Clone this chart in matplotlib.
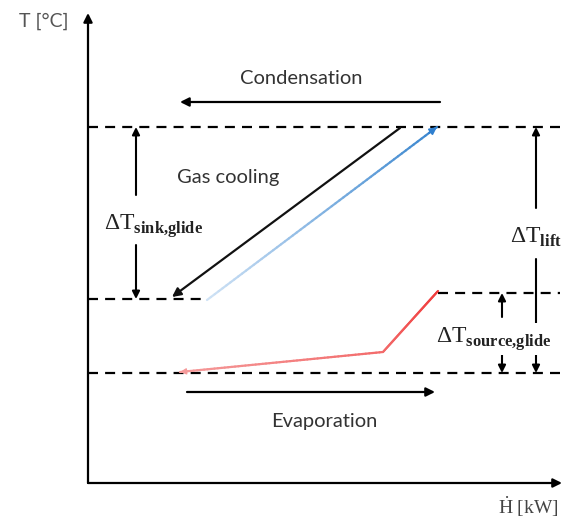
import numpy as np
import matplotlib
matplotlib.use("Agg")
import matplotlib.pyplot as plt
from matplotlib.collections import LineCollection
from matplotlib.colors import LinearSegmentedColormap

plt.rcParams['mathtext.fontset'] = 'custom'
plt.rcParams['mathtext.rm'] = 'Liberation Serif'
plt.rcParams['mathtext.bf'] = 'Liberation Serif:bold'

# ---- schematic data (H in arbitrary kW units, T in arbitrary degC units) ----
H_max = 474
T_max = 470
T_high = 356          # condensation level
T_sink_low = 184      # end of gas cooling (sink glide lower level)
T_source_high = 190   # source upper level
T_low = 110           # evaporation level

# hot refrigerant line (black) : gas cooling / condensation
hot_H = [312, 84]
hot_T = [355, 186]
# sink stream (blue)
sink_H = [119, 349]
sink_T = [183, 356]
# source stream (red), flows right -> left
source_H = [350, 295, 92]
source_T = [192, 131, 111]

cond_H = [352, 92]; cond_T = 381
evap_H = [99, 347]; evap_T = 91

fig = plt.figure(figsize=(5.64, 5.25), dpi=100)
ax = fig.add_axes([0, 0, 1, 1])
ax.set_xlim(-88, 476)
ax.set_ylim(-42, 483)
ax.axis('off')

txtc = '#333333'
ak = dict(arrowstyle='-|>', color='black', lw=1.6, mutation_scale=13, shrinkA=0, shrinkB=0)

# axes arrows
ax.annotate('', xy=(0, T_max), xytext=(0, 0), arrowprops=ak)
ax.annotate('', xy=(H_max, 0), xytext=(0, 0), arrowprops=ak)
ax.text(-44, T_max - 8, 'T [°C]', ha='center', va='center', fontsize=14, color='#555555', family='Lato')
ax.text(440, -24, r'$\dot{\mathrm{H}}$ [kW]', ha='center', va='center', fontsize=14, color='#444444', family='Liberation Serif')

# dashed levels
dk = dict(color='black', lw=1.6, ls=(0, (4.5, 3.2)))
ax.plot([0, 472], [T_high, T_high], **dk)
ax.plot([0, sink_H[0]], [T_sink_low, T_sink_low], **dk)
ax.plot([source_H[0], 472], [T_source_high, T_source_high], **dk)
ax.plot([0, 472], [T_low, T_low], **dk)

# condensation / evaporation arrows
ax.annotate('', xy=(cond_H[1], cond_T), xytext=(cond_H[0], cond_T), arrowprops=ak)
ax.text(213, 405, 'Condensation', ha='center', va='center', fontsize=14.5, color=txtc, family='Lato')
ax.annotate('', xy=(evap_H[1], evap_T), xytext=(evap_H[0], evap_T), arrowprops=ak)
ax.text(236, 61, 'Evaporation', ha='center', va='center', fontsize=14.5, color=txtc, family='Lato')
ax.text(140, 306, 'Gas cooling', ha='center', va='center', fontsize=14.5, color=txtc, family='Lato')

# hot refrigerant line
ax.annotate('', xy=(hot_H[1], hot_T[1]), xytext=(hot_H[0], hot_T[0]),
            arrowprops=dict(arrowstyle='-|>', color='#111111', lw=1.6, mutation_scale=13, shrinkA=0, shrinkB=0))

def grad_line(xs, ys, c0, c1, lw):
    pts = []
    for i in range(len(xs) - 1):
        t = np.linspace(0, 1, 60)
        px = xs[i] + (xs[i + 1] - xs[i]) * t
        py = ys[i] + (ys[i + 1] - ys[i]) * t
        pts.append(np.column_stack([px, py]))
    pts = np.vstack(pts)
    segs = np.stack([pts[:-1], pts[1:]], axis=1)
    cmap = LinearSegmentedColormap.from_list('g', [c0, c1])
    lc = LineCollection(segs, colors=cmap(np.linspace(0, 1, len(segs))), linewidths=lw, capstyle='round')
    ax.add_collection(lc)

# sink stream (blue gradient)
grad_line(sink_H, sink_T, '#cfe2f5', '#3a86cf', 1.6)
ax.annotate('', xy=(sink_H[1], sink_T[1]), xytext=(sink_H[1] - 8, sink_T[1] - 6),
            arrowprops=dict(arrowstyle='-|>', color='#2f7fcf', lw=1.2, mutation_scale=11, shrinkA=0, shrinkB=0))

# source stream (red gradient)
grad_line(source_H, source_T, '#f03a3a', '#f59a9a', 1.6)
ax.annotate('', xy=(source_H[2], source_T[2]), xytext=(source_H[2] + 10, source_T[2] + 1),
            arrowprops=dict(arrowstyle='-|>', color='#f59a9a', lw=1.0, mutation_scale=9, shrinkA=0, shrinkB=0))

# delta T annotations
ak2 = dict(arrowstyle='-|>', color='black', lw=1.5, mutation_scale=11, shrinkA=0, shrinkB=0)

# sink glide
ax.annotate('', xy=(48, T_high), xytext=(48, 288), arrowprops=ak2)
ax.annotate('', xy=(48, T_sink_low), xytext=(48, 238), arrowprops=ak2)
ax.text(66, 257, r'$\Delta\mathrm{T}_{\mathbf{sink{,}glide}}$', ha='center', va='center',
        fontsize=17, color='#222222', bbox=dict(boxstyle='square,pad=0.15', fc='white', ec='none'))

# lift
ax.annotate('', xy=(448, T_high), xytext=(448, 275), arrowprops=ak2)
ax.annotate('', xy=(448, T_low), xytext=(448, 224), arrowprops=ak2)
ax.text(448, 246, r'$\Delta\mathrm{T}_{\mathbf{lift}}$', ha='center', va='center',
        fontsize=17, color='#222222', bbox=dict(boxstyle='square,pad=0.2', fc='white', ec='none'))

# source glide
ax.annotate('', xy=(414, T_source_high), xytext=(414, 166), arrowprops=ak2)
ax.annotate('', xy=(414, T_low), xytext=(414, 131), arrowprops=ak2)
ax.text(406, 144, r'$\Delta\mathrm{T}_{\mathbf{source{,}glide}}$', ha='center', va='center',
        fontsize=17, color='#222222', bbox=dict(boxstyle='square,pad=0.1', fc='white', ec='none'))

fig.savefig('out.png', dpi=100)
